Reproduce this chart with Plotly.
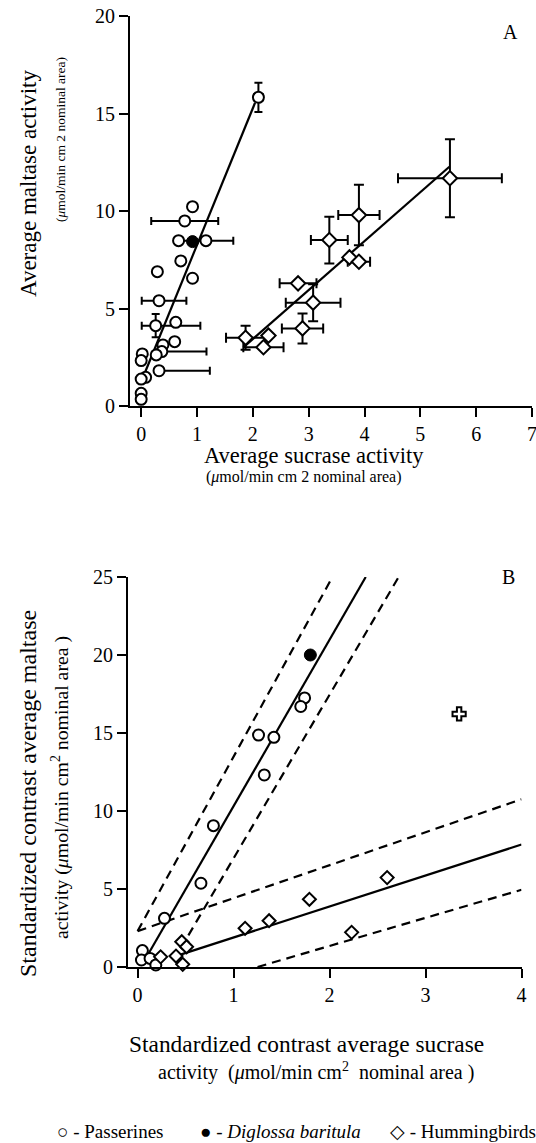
import plotly.graph_objects as go

W, H = 536, 1143

# ---------------- Panel A data ----------------
# Passerines (open circles)
pa_x = [2.10, 0.92, 0.78, 0.67, 1.16, 0.71, 0.29, 0.92, 0.32, 0.62, 0.26, 0.60, 0.39, 0.37, 0.27, 0.02, 0.00, 0.32, 0.08, 0.00, 0.00, 0.00]
pa_y = [15.83, 10.22, 9.49, 8.48, 8.48, 7.44, 6.89, 6.55, 5.40, 4.29, 4.12, 3.30, 3.13, 2.79, 2.62, 2.67, 2.33, 1.81, 1.47, 1.38, 0.65, 0.34]
pa_ex_plus = [0.08, 0, 0.60, 0, 0.49, 0, 0, 0, 0.49, 0, 0.80, 0, 0, 0.80, 0, 0, 0, 0.91, 0, 0, 0, 0]
pa_ex_minus = [0.08, 0, 0.60, 0, 0.49, 0, 0, 0, 0.31, 0, 0.25, 0, 0, 0, 0, 0, 0, 0, 0, 0, 0, 0]
pa_ey = [0.75, 0, 0, 0, 0, 0, 0, 0, 0, 0, 0.60, 0, 0, 0, 0, 0, 0, 0, 0, 0, 0, 0]
# Diglossa baritula (filled circle)
da_x = [0.92]
da_y = [8.43]
# Hummingbirds (open diamonds)
ha_x = [5.53, 3.90, 3.37, 3.73, 3.90, 2.81, 3.08, 2.89, 1.87, 2.28, 2.19]
ha_y = [11.68, 9.79, 8.51, 7.62, 7.40, 6.29, 5.30, 3.98, 3.50, 3.61, 3.01]
ha_ex = [0.93, 0.37, 0.33, 0, 0.20, 0.33, 0.49, 0.37, 0.35, 0, 0.36]
ha_ey = [2.00, 1.55, 1.20, 0, 0, 0, 0.95, 0.77, 0.62, 0, 0]
# regression lines (end points)
a_pass_fit_x = [0.05, 2.04]
a_pass_fit_y = [1.59, 15.55]
a_hum_fit_x = [1.83, 5.52]
a_hum_fit_y = [3.01, 12.27]

# ---------------- Panel B data ----------------
pb_x = [1.74, 1.70, 1.42, 1.26, 1.32, 0.79, 0.66, 0.28, 0.05, 0.04, 0.13, 0.19]
pb_y = [17.25, 16.70, 14.72, 14.87, 12.31, 9.06, 5.37, 3.12, 1.05, 0.45, 0.55, 0.13]
db_x = [1.80]
db_y = [20.0]
hb_x = [0.24, 0.40, 0.47, 0.46, 0.51, 1.12, 1.37, 1.79, 2.60, 2.23]
hb_y = [0.65, 0.70, 0.17, 1.62, 1.30, 2.48, 2.97, 4.34, 5.73, 2.22]
cross_x = [3.35]
cross_y = [16.22]
b_pass_fit_x = [0.08, 2.377]
b_pass_fit_y = [0.50, 25.0]
b_pass_up_x = [0.00, 2.03]
b_pass_up_y = [2.30, 25.0]
b_pass_lo_x = [0.45, 2.72]
b_pass_lo_y = [1.20, 25.0]
b_hum_fit_x = [0.35, 4.0]
b_hum_fit_y = [0.60, 7.85]
b_hum_up_x = [0.00, 4.0]
b_hum_up_y = [2.30, 10.75]
b_hum_lo_x = [1.25, 4.0]
b_hum_lo_y = [0.00, 4.95]

# tick labels
a_xticks = [0, 1, 2, 3, 4, 5, 6, 7]
a_yticks = [0, 5, 10, 15, 20]
b_xticks = [0, 1, 2, 3, 4]
b_yticks = [0, 5, 10, 15, 20, 25]

FONT = "Liberation Serif, Times New Roman, serif"
BLK = "black"

fig = go.Figure()

def line(x, y, xa, ya, dash="solid"):
    fig.add_trace(go.Scatter(x=x, y=y, mode="lines", xaxis=xa, yaxis=ya,
                             line=dict(color=BLK, width=2.2, dash=dash),
                             showlegend=False, hoverinfo="skip"))

# Panel A
line(a_pass_fit_x, a_pass_fit_y, "x", "y")
line(a_hum_fit_x, a_hum_fit_y, "x", "y")
fig.add_trace(go.Scatter(
    x=pa_x, y=pa_y, mode="markers", xaxis="x", yaxis="y", cliponaxis=False,
    marker=dict(symbol="circle", size=11, color="white", line=dict(color=BLK, width=2)),
    error_x=dict(type="data", symmetric=False, array=pa_ex_plus, arrayminus=pa_ex_minus,
                 color=BLK, thickness=2, width=4),
    error_y=dict(type="data", array=pa_ey, color=BLK, thickness=2, width=4),
    showlegend=False))
fig.add_trace(go.Scatter(
    x=ha_x, y=ha_y, mode="markers", xaxis="x", yaxis="y", cliponaxis=False,
    marker=dict(symbol="diamond", size=11, color="white", line=dict(color=BLK, width=2)),
    error_x=dict(type="data", array=ha_ex, color=BLK, thickness=2, width=5),
    error_y=dict(type="data", array=ha_ey, color=BLK, thickness=2, width=5),
    showlegend=False))
fig.add_trace(go.Scatter(
    x=da_x, y=da_y, mode="markers", xaxis="x", yaxis="y", cliponaxis=False,
    marker=dict(symbol="circle", size=12, color=BLK, line=dict(color=BLK, width=1)),
    showlegend=False))

# Panel B
DASH = "9px,6px"
line(b_pass_fit_x, b_pass_fit_y, "x2", "y2")
line(b_pass_up_x, b_pass_up_y, "x2", "y2", DASH)
line(b_pass_lo_x, b_pass_lo_y, "x2", "y2", DASH)
line(b_hum_fit_x, b_hum_fit_y, "x2", "y2")
line(b_hum_up_x, b_hum_up_y, "x2", "y2", DASH)
line(b_hum_lo_x, b_hum_lo_y, "x2", "y2", DASH)
fig.add_trace(go.Scatter(
    x=pb_x, y=pb_y, mode="markers", xaxis="x2", yaxis="y2", cliponaxis=False,
    marker=dict(symbol="circle", size=11, color="white", line=dict(color=BLK, width=2)),
    showlegend=False))
fig.add_trace(go.Scatter(
    x=hb_x, y=hb_y, mode="markers", xaxis="x2", yaxis="y2", cliponaxis=False,
    marker=dict(symbol="diamond", size=10, color="white", line=dict(color=BLK, width=2)),
    showlegend=False))
fig.add_trace(go.Scatter(
    x=db_x, y=db_y, mode="markers", xaxis="x2", yaxis="y2", cliponaxis=False,
    marker=dict(symbol="circle", size=12, color=BLK, line=dict(color=BLK, width=1)),
    showlegend=False))
fig.add_trace(go.Scatter(
    x=cross_x, y=cross_y, mode="markers", xaxis="x2", yaxis="y2", cliponaxis=False,
    marker=dict(symbol="cross", size=11, color="white", line=dict(color=BLK, width=2)),
    showlegend=False))

def px(x):
    return x / W

def py(y):
    return 1 - y / H

axis_common = dict(showline=True, linewidth=2, linecolor=BLK, ticks="outside",
                   ticklen=9, tickwidth=2, tickcolor=BLK, showgrid=False,
                   zeroline=False, mirror=False, automargin=False,
                   ticklabeloverflow="allow",
                   tickfont=dict(family=FONT, size=20, color=BLK))

fig.update_layout(
    template="none",
    width=W, height=H, margin=dict(l=0, r=0, t=0, b=0, autoexpand=False),
    paper_bgcolor="white", plot_bgcolor="white",
    font=dict(family=FONT, color=BLK),
    xaxis=dict(domain=[px(130), px(532)], range=[-0.2, 7], anchor="y",
               tickvals=a_xticks, **axis_common),
    yaxis=dict(domain=[py(406), py(16)], range=[0, 20], anchor="x",
               tickvals=a_yticks, **axis_common),
    xaxis2=dict(domain=[px(128), px(521.5)], range=[-0.1, 4], anchor="y2",
                tickvals=b_xticks, **axis_common),
    yaxis2=dict(domain=[py(967), py(577)], range=[0, 25], anchor="x2",
                tickvals=b_yticks, **axis_common),
)

NB = "\u00a0"
ann = []

def text(t, x, y, size, angle=0, xanchor="center", yanchor="middle"):
    ann.append(dict(text=t, x=px(x), y=py(y), xref="paper", yref="paper",
                    showarrow=False, textangle=angle, xanchor=xanchor, yanchor=yanchor,
                    font=dict(family=FONT, size=size, color=BLK)))

text("A", 510, 32, 20)
text("B", 508, 577, 20)
text("Average sucrase activity", 314, 455, 22.5)
text("(<i>μ</i>mol/min cm 2 nominal area)", 304, 477, 16)
text("Average maltase activity", 28, 184, 23, angle=-90)
text("(<i>μ</i>mol/min cm 2 nominal area)", 60, 140, 13.5, angle=-90)
text("Standardized contrast average sucrase", 306, 1044, 23.4)
text("activity" + NB + NB + "(<i>μ</i>mol/min cm<sup>2</sup>" + NB + NB + "nominal area )", 316, 1071, 20)
text("Standardized contrast average maltase", 28, 794, 24, angle=-90)
text("activity (<i>μ</i>mol/min cm<sup>2</sup> nominal area )", 60, 788, 19.8, angle=-90)
text("○ - Passerines", 55, 1131, 19, xanchor="left")
text("● - <i>Diglossa baritula</i>", 198, 1131, 19, xanchor="left")
text("◇ - Hummingbirds", 388, 1131, 19, xanchor="left")

fig.update_layout(annotations=ann)

post = ("document.body.style.margin='0';document.body.style.padding='0';"
        "document.documentElement.style.overflow='hidden';"
        "document.body.style.overflow='hidden';")

fig.write_html("out.html", post_script=post, config={"displayModeBar": False})
